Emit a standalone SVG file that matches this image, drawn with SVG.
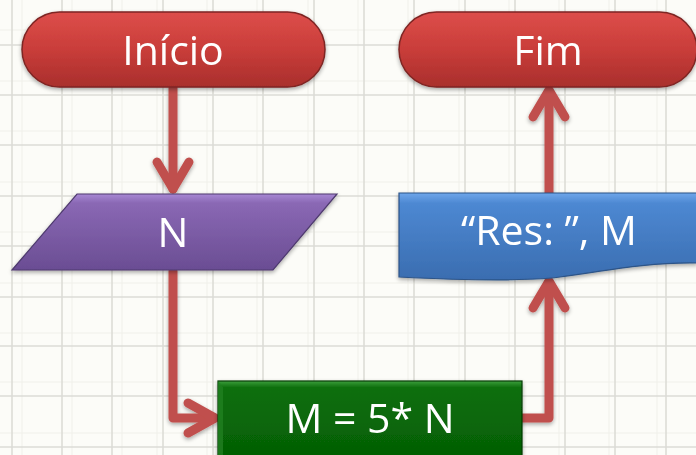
<svg xmlns="http://www.w3.org/2000/svg" width="696" height="455" viewBox="0 0 696 455">
  <style>
    .grid { stroke: #dcdcd6; stroke-width: 1.6; }
    .gridf { stroke: #f0f0ea; stroke-width: 1; }
    .label { font-family: "Open Sans", "Liberation Sans", sans-serif; font-size: 41px; fill: #ffffff; text-anchor: middle; }
    .conn { fill: none; stroke: #c0504d; stroke-width: 9; stroke-linecap: round; stroke-linejoin: round; }
  </style>
  <defs>
    <linearGradient id="gRed" x1="0" y1="0" x2="0" y2="1">
      <stop offset="0" stop-color="#dd4e4a"/>
      <stop offset="0.5" stop-color="#c93d3a"/>
      <stop offset="1" stop-color="#a92f2c"/>
    </linearGradient>
    <linearGradient id="gPurple" x1="0" y1="0" x2="0" y2="1">
      <stop offset="0" stop-color="#a888d4"/>
      <stop offset="0.12" stop-color="#8a68b4"/>
      <stop offset="1" stop-color="#6a4d93"/>
    </linearGradient>
    <linearGradient id="gBlue" x1="0" y1="0" x2="0" y2="1">
      <stop offset="0" stop-color="#6ea6ea"/>
      <stop offset="0.12" stop-color="#4d88d2"/>
      <stop offset="1" stop-color="#3a6db0"/>
    </linearGradient>
    <linearGradient id="gGreen" x1="0" y1="0" x2="0" y2="1">
      <stop offset="0" stop-color="#3f9f3f"/>
      <stop offset="0.08" stop-color="#0c6f0c"/>
      <stop offset="1" stop-color="#045e04"/>
    </linearGradient>
    <filter id="shadow" x="-10%" y="-20%" width="120%" height="150%">
      <feGaussianBlur in="SourceAlpha" stdDeviation="2"/>
      <feOffset dx="0" dy="2" result="b"/>
      <feComponentTransfer><feFuncA type="linear" slope="0.35"/></feComponentTransfer>
      <feMerge><feMergeNode/><feMergeNode in="SourceGraphic"/></feMerge>
    </filter>
  </defs>

  <!-- paper background with squared grid -->
  <rect x="0" y="0" width="696" height="455" fill="#fcfcf8"/>
  <g id="grid">
    <g class="gridf">
      <path d="M22,0V455M72,0V455M122,0V455M157,0V455M207,0V455M257,0V455M308,0V455M358,0V455M408,0V455M459,0V455M509,0V455M559,0V455M609,0V455M657,0V455"/>
      <path d="M0,30H696M0,81H696M0,131H696M0,182H696M0,232H696M0,283H696M0,333H696M0,382H696M0,433H696"/>
    </g>
    <g class="grid">
      <path d="M12,0V455M62,0V455M112,0V455M163,0V455M213,0V455M263,0V455M314,0V455M364,0V455M414,0V455M465,0V455M515,0V455M565,0V455M615,0V455M666,0V455"/>
      <path d="M0,45H696M0,95H696M0,145H696M0,196H696M0,246H696M0,297H696M0,346H696M0,396H696M0,447H696"/>
    </g>
  </g>

  <!-- connectors -->
  <g id="connectors" filter="url(#shadow)">
    <path class="conn" d="M173,88V189"/>
    <path class="conn" d="M157,162L173,189L189,162"/>
    <path class="conn" d="M173,271V418H214"/>
    <path class="conn" d="M188,403L215,418L188,433"/>
    <path class="conn" d="M522,418H549V282"/>
    <path class="conn" d="M533,308L549,281L565,308"/>
    <path class="conn" d="M549,193V91"/>
    <path class="conn" d="M533,117L549,90L565,117"/>
  </g>

  <!-- start terminator -->
  <g id="inicio" filter="url(#shadow)">
    <rect x="22" y="12" width="303" height="75" rx="37.5" fill="url(#gRed)" stroke="#7e2524" stroke-width="1.5"/>
    <text class="label" x="173" y="65">Início</text>
  </g>

  <!-- end terminator -->
  <g id="fim" filter="url(#shadow)">
    <rect x="399" y="12" width="298" height="75" rx="37.5" fill="url(#gRed)" stroke="#7e2524" stroke-width="1.5"/>
    <text class="label" x="548" y="65">Fim</text>
  </g>

  <!-- input parallelogram -->
  <g id="entrada" filter="url(#shadow)">
    <polygon points="77,194 337,194 273,270 12,270" fill="url(#gPurple)" stroke="#4e3a6e" stroke-width="1.2"/>
    <text class="label" x="173" y="247">N</text>
  </g>

  <!-- process box -->
  <g id="processo" filter="url(#shadow)">
    <rect x="218" y="381" width="304" height="80" fill="url(#gGreen)" stroke="#053d05" stroke-width="1.2"/>
    <polygon points="218,381 223,387 223,461 218,461" fill="#1f801f" opacity="0.8"/>
    <text class="label" x="370" y="433">M = 5* N</text>
  </g>

  <!-- output document -->
  <g id="saida" filter="url(#shadow)">
    <path d="M399,193H697V263C645,262 600,272 560,277C520,282 460,280 399,277Z" fill="url(#gBlue)" stroke="#2d5487" stroke-width="1.2"/>
    <text class="label" x="549" y="245">“Res: ”, M</text>
  </g>
</svg>
